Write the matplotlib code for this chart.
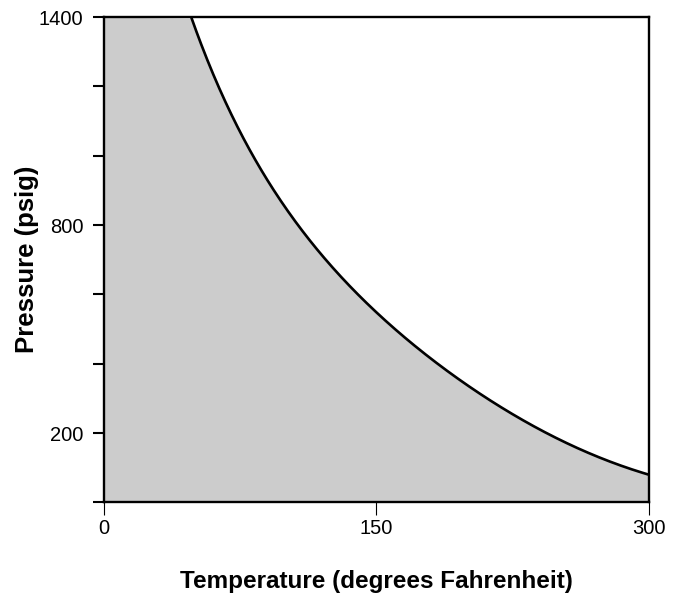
import numpy as np
import matplotlib
matplotlib.use("Agg")
import matplotlib.pyplot as plt

plt.rcParams['font.family'] = ['Liberation Sans', 'DejaVu Sans']

# curve (temperature F, pressure psig)
temp = [48.8, 63.9, 79.4, 91.4, 111.6, 131.7, 162.9, 192.3, 221.7, 234.5, 266.6, 300]
pressure = [1400, 1180, 1021, 920, 766, 646, 492, 362, 270, 227, 141, 81]

x_ticks = [0, 150, 300]
y_ticks = [0, 200, 400, 600, 800, 1000, 1200, 1400]
y_labels = ['', '200', '', '', '800', '', '', '1400']

# smooth line through the read points (log pressure vs temperature)
coef = np.polyfit(temp, np.log(pressure), 3)
tt = np.linspace(35, 300, 400)
pp = np.exp(np.polyval(coef, tt))
keep = pp <= 1400
line_t, line_p = tt[keep], pp[keep]
fill_t = np.concatenate([[0], line_t])
fill_p = np.concatenate([[1400], line_p])

fig = plt.figure(figsize=(6.81, 5.95), dpi=100)
ax = fig.add_axes([0.1527, 0.1555, 0.7996, 0.8159])

ax.fill_between(fill_t, 0, fill_p, color='#cccccc', lw=0)
ax.plot(line_t, line_p, color='black', lw=1.9)

ax.set_xlim(0, 300)
ax.set_ylim(0, 1400)
ax.set_xticks(x_ticks)
ax.set_yticks(y_ticks)
ax.set_yticklabels(y_labels)
ax.tick_params(axis='x', length=9, width=0.8, labelsize=14.5, pad=3)
ax.tick_params(axis='y', length=8, width=1.5, labelsize=14.5, pad=7)
for s in ax.spines.values():
    s.set_linewidth(1.7)

ax.set_xlabel('Temperature (degrees Fahrenheit)', fontsize=17.5, fontweight='bold')
ax.set_ylabel('Pressure (psig)', fontsize=18.5, fontweight='bold')
ax.xaxis.set_label_coords(0.5, -0.163)
ax.xaxis.label.set_verticalalignment('center')
ax.yaxis.set_label_coords(-0.142, 0.5)
ax.yaxis.label.set_verticalalignment('center')

plt.savefig('out.png', dpi=100)
